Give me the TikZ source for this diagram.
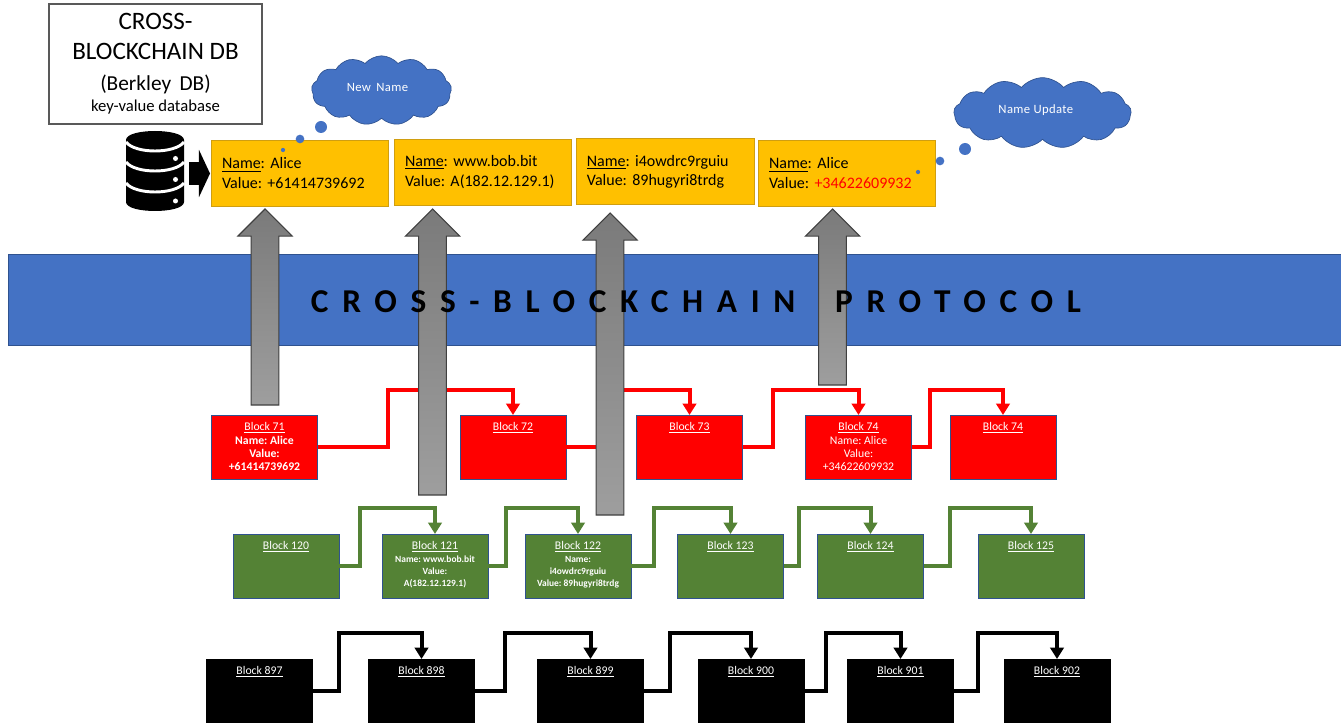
\documentclass[tikz,border=0pt]{standalone}
\usepackage{xcolor}
\usepackage{fontspec}
\setmainfont{Carlito}
\usetikzlibrary{positioning, arrows.meta, shapes.symbols, shapes.arrows}

\definecolor{bandblue}{HTML}{4472C4}
\definecolor{edgeblue}{HTML}{2F528F}
\definecolor{dbyellow}{HTML}{FFC000}
\definecolor{dbedge}{HTML}{D09E10}
\definecolor{chaingreen}{HTML}{548235}

\tikzset{
    block/.style={rectangle, draw=edgeblue, line width=0.6pt, minimum width=79.5pt, minimum height=48pt, inner sep=0pt, outer sep=0pt},
    blocktext/.style={anchor=north, align=center, text=white, inner sep=0pt, yshift=-5.5pt, font=\fontsize{8.8}{10}\selectfont},
    smalltext/.style={blocktext, font=\fontsize{7.1}{8.8}\selectfont},
    dbbox/.style={rectangle, draw=dbedge, line width=0.6pt, fill=dbyellow, text width=117pt, align=left, inner xsep=8pt, inner ysep=0pt, minimum height=49.5pt, outer sep=0pt, font=\fontsize{12}{14.5}\selectfont},
    thought/.style={cloud, cloud puffs=13, cloud puff arc=100, aspect=1.75, draw=edgeblue, line width=0.5pt, fill=bandblue, inner sep=0pt},
    thoughttext/.style={text=white, inner sep=0pt, font=\fontsize{9.5}{10}\selectfont\addfontfeature{LetterSpace=3}},
    bubble/.style={circle, fill=bandblue, inner sep=0pt},
    uparrow/.style={single arrow, anchor=tip, draw=black!75, line width=0.8pt, top color=black!52, bottom color=black!38, minimum width=40pt, single arrow head extend=10pt, single arrow tip angle=90, rotate=90, inner xsep=0pt, inner ysep=10pt, outer sep=0pt},
    link/.style={line width=3pt, -{Triangle[width=10pt,length=8.5pt]}},
}

\begin{document}
\frenchspacing
\begin{tikzpicture}[x=0.75pt, y=-0.75pt]
    \useasboundingbox (0,0) rectangle (1341,723);

    % title and database
    \node[rectangle, draw=black!65, line width=0.8pt, minimum width=159.75pt, minimum height=90pt, inner sep=0pt, align=center, font=\fontsize{18.8}{22.5}\selectfont] (title) at (155.5,64) {%
        CROSS-\\BLOCKCHAIN DB\\[0.5pt]
        {\fontsize{16}{16}\selectfont (Berkley\, DB)}\\[-6.5pt]
        {\fontsize{12.5}{12.5}\selectfont key-value database}};

    \fill (126,140) .. controls (126,128) and (184,128) .. (184,140) -- (184,202) .. controls (184,214) and (126,214) .. (126,202) -- cycle;
    \draw[white, line width=2.2pt] (126,142) .. controls (135,154) and (175,154) .. (184,142);
    \draw[white, line width=2.2pt] (126,162) .. controls (135,174) and (175,174) .. (184,162);
    \draw[white, line width=2.2pt] (126,183) .. controls (135,195) and (175,195) .. (184,183);
    \fill[white] (175.5,158.5) circle (2.5);
    \fill[white] (175.5,179.5) circle (2.5);
    \fill[white] (175.5,201) circle (2.5);
    \node[single arrow, anchor=tip, fill=black, minimum height=15.75pt, minimum width=35pt, single arrow head extend=9.25pt, single arrow tip angle=130, inner xsep=0pt, inner ysep=8.25pt, outer sep=0pt] (dbarrow) at (210,173.5) {};

    % key-value records
    \node[dbbox] (rec1) at (300,173) {\underline{Name}: Alice\\Value: +61414739692};
    \node[dbbox] (rec2) at (483,172) {\underline{Name}: www.bob.bit\\Value: A(182.12.129.1)};
    \node[dbbox, text width=118pt] (rec3) at (665.5,171.5) {\underline{Name}: i4owdrc9rguiu\\Value: 89hugyri8trdg};
    \node[dbbox] (rec4) at (847,173) {\underline{Name}: Alice\\Value: \textcolor{red}{+34622609932}};

    % thoughts
    \node[thought, minimum width=105pt, minimum height=52pt, label={[thoughttext, xshift=-3pt, yshift=2pt]center:New\, Name}] (newname) at (381.5,90.5) {};
    \node[bubble, minimum size=9pt] (nb1) at (321,127) {};
    \node[bubble, minimum size=6.5pt] (nb2) at (300,139) {};
    \node[bubble, minimum size=3.2pt] (nb3) at (283,150) {};
    \node[thought, minimum width=133pt, minimum height=53pt, label={[thoughttext, xshift=-5pt, yshift=2.5pt]center:Name Update}] (update) at (1042.5,113) {};
    \node[bubble, minimum size=9pt] (ub1) at (965,149) {};
    \node[bubble, minimum size=6.5pt] (ub2) at (940,161) {};
    \node[bubble, minimum size=3.2pt] (ub3) at (918,172) {};

    % protocol band
    \node[rectangle, draw=edgeblue, line width=0.5pt, fill=bandblue, minimum width=999.75pt, minimum height=68.25pt, inner sep=0pt] (band) at (674.5,299.5) {};

    % red chain
    \node[block, fill=red, label={[blocktext]90:\underline{Block 71}\\\textbf{Name: Alice}\\\textbf{Value:}\\\textbf{+61414739692}}] (r71) at (264.5,447) {};
    \node[block, fill=red, label={[blocktext]90:\underline{Block 72}}] (r72) at (513,447) {};
    \node[block, fill=red, label={[blocktext]90:\underline{Block 73}}] (r73) at (689.5,447) {};
    \node[block, fill=red, label={[blocktext]90:\underline{Block 74}\\Name: Alice\\Value:\\+34622609932}] (r74) at (858.5,447) {};
    \node[block, fill=red, label={[blocktext]90:\underline{Block 74}}] (r75) at (1003,447) {};

    % green chain
    \node[block, fill=chaingreen, label={[blocktext]90:\underline{Block 120}}] (g120) at (286,566) {};
    \node[block, fill=chaingreen, label={[smalltext]90:{\fontsize{8.8}{10}\selectfont\underline{Block 121}}\\[1pt]\textbf{Name: www.bob.bit}\\\textbf{Value:}\\\textbf{A(182.12.129.1)}}] (g121) at (435,566) {};
    \node[block, fill=chaingreen, label={[smalltext]90:{\fontsize{8.8}{10}\selectfont\underline{Block 122}}\\[1pt]\textbf{Name:}\\\textbf{i4owdrc9rguiu}\\\textbf{Value: 89hugyri8trdg}}] (g122) at (578,566) {};
    \node[block, fill=chaingreen, label={[blocktext]90:\underline{Block 123}}] (g123) at (730.5,566) {};
    \node[block, fill=chaingreen, label={[blocktext]90:\underline{Block 124}}] (g124) at (870.5,566) {};
    \node[block, fill=chaingreen, label={[blocktext]90:\underline{Block 125}}] (g125) at (1031,566) {};

    % black chain
    \node[block, fill=black, draw=black, label={[blocktext]90:\underline{Block 897}}] (k897) at (259.5,691) {};
    \node[block, fill=black, draw=black, label={[blocktext]90:\underline{Block 898}}] (k898) at (421.5,691) {};
    \node[block, fill=black, draw=black, label={[blocktext]90:\underline{Block 899}}] (k899) at (590.5,691) {};
    \node[block, fill=black, draw=black, label={[blocktext]90:\underline{Block 900}}] (k900) at (751,691) {};
    \node[block, fill=black, draw=black, label={[blocktext]90:\underline{Block 901}}] (k901) at (900.5,691) {};
    \node[block, fill=black, draw=black, label={[blocktext]90:\underline{Block 902}}] (k902) at (1057,691) {};

    \foreach \from/\to/\bend in {r71/r72/388, r72/r73/610, r73/r74/773, r74/r75/930}
        \draw[link, red] (\from.east) -| (\bend,390) -| (\to.north);
    \foreach \from/\to/\bend in {g120/g121/360, g121/g122/506, g122/g123/654, g123/g124/799, g124/g125/950}
        \draw[link, chaingreen] (\from.east) -| (\bend,508) -| (\to.north);
    \foreach \from/\to/\bend in {k897/k898/339, k898/k899/505, k899/k900/670, k900/k901/826, k901/k902/978}
        \draw[link, black] (\from.east) -| (\bend,633) -| (\to.north);

    % block arrows up to the records
    \node[uparrow, minimum height=147pt] (up1) at (265,209) {};
    \node[uparrow, minimum height=214.5pt] (up2) at (432.5,209) {};
    \node[uparrow, minimum height=226.5pt] (up3) at (610,213) {};
    \node[uparrow, minimum height=132pt] (up4) at (832.5,209) {};

    \node[font=\fontsize{25}{30}\selectfont\bfseries\addfontfeature{LetterSpace=41}] (protocol) at (696,302) {CROSS-BLOCKCHAIN\hspace{14pt} PROTOCOL};
\end{tikzpicture}
\end{document}
